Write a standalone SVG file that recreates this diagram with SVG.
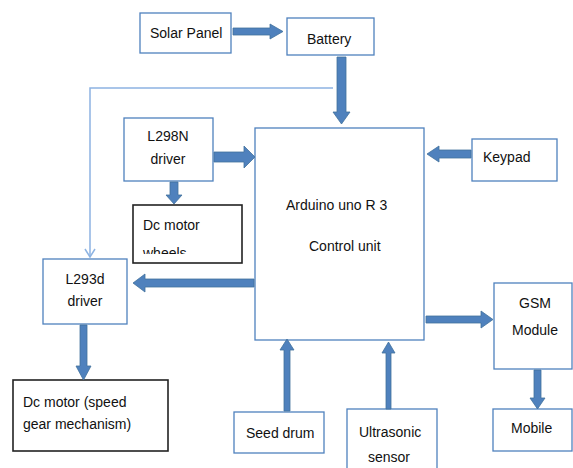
<svg xmlns="http://www.w3.org/2000/svg" width="573" height="468" viewBox="0 0 573 468">
<style>
.box{fill:#fff;stroke:#4f81bd;stroke-width:1.3}
.bk{fill:#fff;stroke:#222;stroke-width:1.6}
.t{font-family:"Liberation Sans",Arial,sans-serif;font-size:14px;fill:#111}
.ar{fill:#4f81bd;stroke:#41719c;stroke-width:0.8}
.thin{fill:none;stroke:#8db3e2;stroke-width:1.5}
</style>
<defs>
<clipPath id="cw"><rect x="133" y="205" width="109" height="49"/></clipPath>
</defs>
<rect width="573" height="468" fill="#fff"/>
<g id="solar"><rect class="box" x="140" y="13" width="91" height="40"/><text class="t" x="150" y="38">Solar Panel</text></g>
<g id="battery"><rect class="box" x="287" y="18" width="87" height="37"/><text class="t" x="307" y="44">Battery</text></g>
<g id="arduino"><rect class="box" x="255" y="128" width="169" height="212"/><text class="t" x="286" y="210">Arduino uno R 3</text><text class="t" x="309" y="251">Control unit</text></g>
<g id="l298n"><rect class="box" x="124" y="118" width="89" height="63"/><text class="t" x="168" y="141" text-anchor="middle">L298N</text><text class="t" x="168" y="164" text-anchor="middle">driver</text></g>
<g id="dcwheels"><rect class="bk" x="133" y="205" width="109" height="58"/><g clip-path="url(#cw)"><text class="t" x="143" y="230">Dc motor</text><text class="t" x="143" y="258">wheels</text></g></g>
<g id="l293d"><rect class="box" x="43" y="259" width="84" height="65"/><text class="t" x="85" y="284" text-anchor="middle">L293d</text><text class="t" x="85" y="306" text-anchor="middle">driver</text></g>
<g id="dcspeed"><rect class="bk" x="13" y="380" width="155" height="71"/><text class="t" x="23" y="407">Dc motor (speed</text><text class="t" x="23" y="429">gear mechanism)</text></g>
<g id="keypad"><rect class="box" x="472" y="139" width="85" height="42"/><text class="t" x="483" y="162">Keypad</text></g>
<g id="gsm"><rect class="box" x="494" y="283" width="78" height="86"/><text class="t" x="535" y="308" text-anchor="middle">GSM</text><text class="t" x="535" y="335" text-anchor="middle">Module</text></g>
<g id="mobile"><rect class="box" x="493" y="409" width="79" height="42"/><text class="t" x="511" y="433">Mobile</text></g>
<g id="ultrasonic"><rect class="box" x="347" y="409" width="90" height="65"/><text class="t" x="359" y="437">Ultrasonic</text><text class="t" x="368" y="462">sensor</text></g>
<g id="seeddrum"><rect class="box" x="234" y="412" width="90" height="41"/><text class="t" x="246" y="438">Seed drum</text></g>
<g id="connectors">
<polyline class="thin" points="333,88 90,88 90,257"/>
<polyline class="thin" points="85,249 90,257 95,249"/>
<polygon class="ar" points="233,28 270,28 270,24 283,31.5 270,39 270,35 233,35"/>
<polygon class="ar" points="337,57 346,57 346,112 350,112 341.5,124 333,112 337,112"/>
<polygon class="ar" points="214,152 244,152 244,146 255,157 244,168 244,162 214,162"/>
<polygon class="ar" points="170,182 178,182 178,195 182,195 174,204 166,195 170,195"/>
<polygon class="ar" points="254,279 145,279 145,274 133,283 145,292 145,287 254,287"/>
<polygon class="ar" points="471,150 439,150 439,146 427,154 439,162 439,158 471,158"/>
<polygon class="ar" points="426,316 481,316 481,311 493,319.5 481,328 481,323 426,323"/>
<polygon class="ar" points="534,370 541,370 541,398 545,398 537.5,409 530,398 534,398"/>
<polygon class="ar" points="386,409 391,409 391,353 395,353 388.5,342 382,353 386,353"/>
<polygon class="ar" points="284,411 290,411 290,350 294,350 287,339 280,350 284,350"/>
<polygon class="ar" points="80,325 87,325 87,366 91,366 83.5,380 76,366 80,366"/>
</g>
</svg>
